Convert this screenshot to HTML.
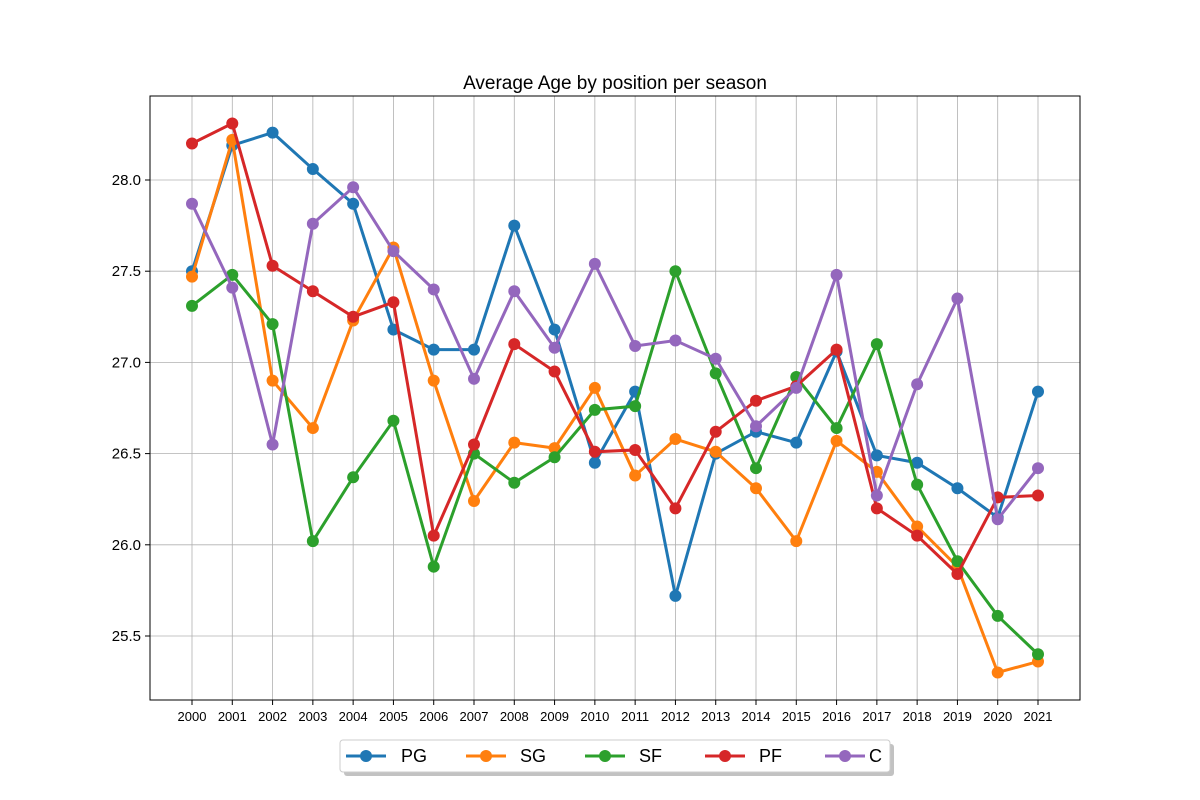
<!DOCTYPE html>
<html><head><meta charset="utf-8"><style>
body{margin:0;background:#fff;}
svg{display:block;font-family:"Liberation Sans","DejaVu Sans",sans-serif;}
</style></head><body>
<svg id="chart" width="1200" height="800"></svg>
<script>
const years=[2000,2001,2002,2003,2004,2005,2006,2007,2008,2009,2010,2011,2012,2013,2014,2015,2016,2017,2018,2019,2020,2021];
const pg=[27.50,28.19,28.26,28.06,27.87,27.18,27.07,27.07,27.75,27.18,26.45,26.84,25.72,26.50,26.62,26.56,27.06,26.49,26.45,26.31,26.15,26.84];
const sg=[27.47,28.22,26.90,26.64,27.23,27.63,26.90,26.24,26.56,26.53,26.86,26.38,26.58,26.51,26.31,26.02,26.57,26.40,26.10,25.88,25.30,25.36];
const sf=[27.31,27.48,27.21,26.02,26.37,26.68,25.88,26.50,26.34,26.48,26.74,26.76,27.50,26.94,26.42,26.92,26.64,27.10,26.33,25.91,25.61,25.40];
const pf=[28.20,28.31,27.53,27.39,27.25,27.33,26.05,26.55,27.10,26.95,26.51,26.52,26.20,26.62,26.79,26.87,27.07,26.20,26.05,25.84,26.26,26.27];
const c=[27.87,27.41,26.55,27.76,27.96,27.61,27.40,26.91,27.39,27.08,27.54,27.09,27.12,27.02,26.65,26.86,27.48,26.27,26.88,27.35,26.14,26.42];
const yTicks=[25.5,26.0,26.5,27.0,27.5,28.0];
const seriesNames=["PG","SG","SF","PF","C"];
const seriesData=[pg,sg,sf,pf,c];
const colors=["#1f77b4","#ff7f0e","#2ca02c","#d62728","#9467bd"];

const NS="http://www.w3.org/2000/svg";
const svg=document.getElementById('chart');
const L=150,R=1080,T=96,B=700;
function xS(i){return 192+i*(1038-192)/(years.length-1);}
function yS(v){return 180+(28-v)*182.4;}
function mk(tag,attrs,parent){const e=document.createElementNS(NS,tag);for(const k in attrs)e.setAttribute(k,attrs[k]);(parent||svg).appendChild(e);return e;}

yTicks.forEach(v=>{
  const g=mk('line',{x1:L,x2:R,y1:yS(v),y2:yS(v),stroke:'#b0b0b0','stroke-width':0.8});
  
  
  mk('line',{x1:L-5,x2:L,y1:yS(v),y2:yS(v),stroke:'#000'});
  const t=mk('text',{x:L-9,y:yS(v)+5,'text-anchor':'end','font-size':15});
  t.textContent=v.toFixed(1);
  
  
});
years.forEach((yr,i)=>{
  const g=mk('line',{x1:xS(i),x2:xS(i),y1:T,y2:B,stroke:'#b0b0b0','stroke-width':0.8});
  
  
  mk('line',{x1:xS(i),x2:xS(i),y1:B,y2:B+5,stroke:'#000'});
  const t=mk('text',{x:xS(i),y:B+21,'text-anchor':'middle','font-size':13});
  t.textContent=yr;
  
  
});
seriesData.forEach((d,s)=>{
  const pts=d.map((v,i)=>xS(i)+','+yS(v)).join(' ');
  const pl=mk('polyline',{points:pts,fill:'none',stroke:colors[s],'stroke-width':3});
  
  
  d.forEach((v,i)=>{
    const p=mk('circle',{cx:xS(i),cy:yS(v),r:6,fill:colors[s]});
    
    
  });
});
const fr=mk('rect',{x:L,y:T,width:R-L,height:B-T,fill:'none',stroke:'#000','stroke-width':1});


const title=mk('text',{x:615,y:89,'text-anchor':'middle','font-size':19});
title.textContent='Average Age by position per season';


const lg=mk('g',{});


mk('rect',{x:344,y:744,width:550,height:32,rx:3,fill:'#999',opacity:0.6},lg);
mk('rect',{x:340,y:740,width:550,height:32,rx:3,fill:'#fff',stroke:'#ccc'},lg);
const lx=[346,466,585,705,825];
const tx=[401,520,639,759,869];
seriesNames.forEach((n,s)=>{
  const e=mk('g',{},lg);
  
  
  mk('line',{x1:lx[s],x2:lx[s]+40,y1:756,y2:756,stroke:colors[s],'stroke-width':3},e);
  mk('circle',{cx:lx[s]+20,cy:756,r:6,fill:colors[s]},e);
  const t=mk('text',{x:tx[s],y:762,'font-size':18},e);
  t.textContent=n;
});
</script>
</body></html>
